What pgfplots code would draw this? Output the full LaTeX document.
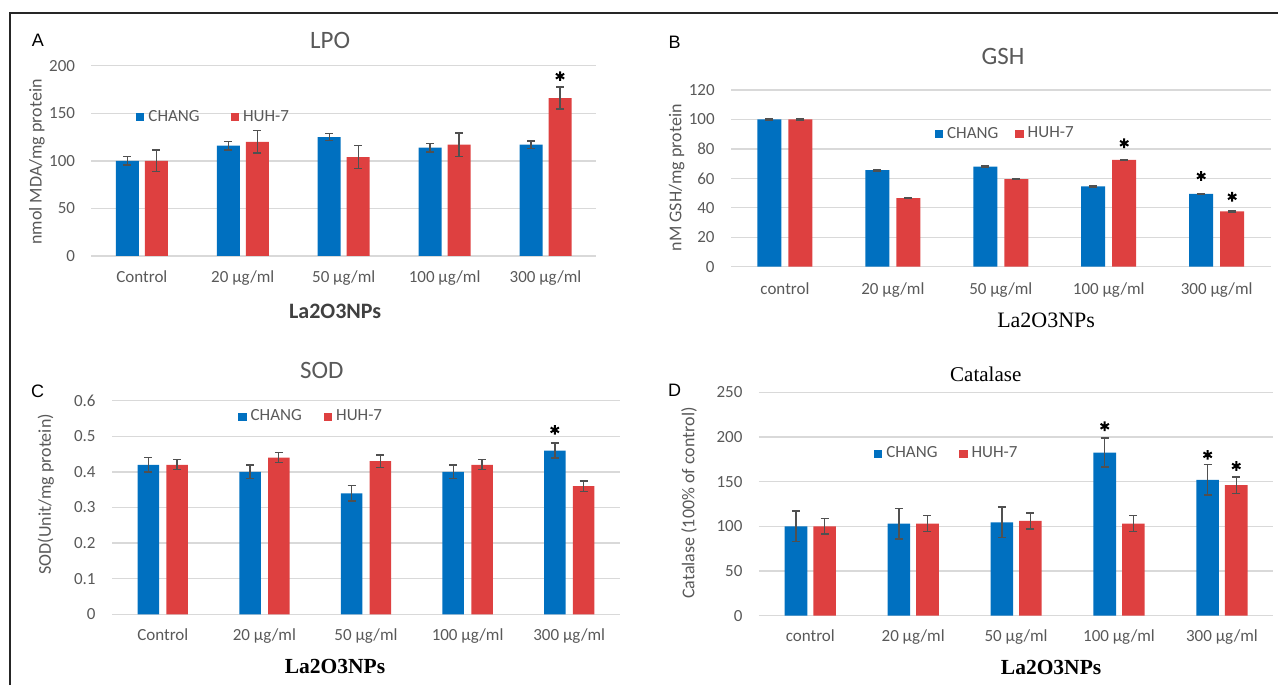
\documentclass[border=0pt]{standalone}
\usepackage{fontspec}
\setmainfont{Carlito}
\newfontfamily\arialf{Liberation Sans}
\newfontfamily\timesf{Liberation Serif}
\usepackage{pgfplots}
\pgfplotsset{compat=1.18}
\definecolor{cblue}{RGB}{0,112,192}
\definecolor{cred}{RGB}{222,64,64}
\definecolor{txt}{RGB}{89,89,89}
\definecolor{dtxt}{RGB}{64,64,64}
\definecolor{gridc}{RGB}{217,217,217}
\definecolor{errc}{RGB}{80,80,80}
\pgfplotsset{
  panel/.style={scale only axis, xmin=-0.5, xmax=4.5, ymin=0, xtick={0,...,4},
    axis line style={draw=none}, tick style={draw=none},
    ymajorgrids, grid style={gridc, line width=0.7pt}, clip=false, anchor=south west,
    every axis title shift=0pt,
    /pgf/number format/assume math mode=true,
    ticklabel style={font=\fontsize{8.5}{10}\selectfont, text=txt},
    yticklabel style={anchor=east, inner sep=0pt, xshift=-8pt},
    xticklabel style={anchor=base, inner sep=0pt},
    ylabel style={font=\fontsize{9}{11}\selectfont, text=txt, anchor=center},
    xlabel style={anchor=center},
    title style={anchor=center},
    legend style={draw=none, fill=none, legend columns=2, font=\fontsize{8.5}{10}\selectfont, text=txt, anchor=center}},
  chang/.style={ybar, bar shift=0pt, fill=cblue, draw=none,
    legend image code/.code={\fill[cblue] (0pt,-2.1pt) rectangle (4.2pt,2.1pt);}},
  huh/.style={ybar, bar shift=0pt, fill=cred, draw=none,
    legend image code/.code={\fill[cred] (0pt,-2.1pt) rectangle (4.2pt,2.1pt);}},
  errs/.style={/pgfplots/error bars/y dir=both, /pgfplots/error bars/y explicit,
    /pgfplots/error bars/error bar style={errc, line width=0.7pt},
    /pgfplots/error bars/error mark options={rotate=90, errc, mark size=2pt, line width=0.7pt}},
  stars/.style={only marks, mark=asterisk, mark size=2.4pt, mark options={black, line width=1pt}, forget plot}
}
\begin{document}
\begin{tikzpicture}
\useasboundingbox (0pt,0pt) rectangle (639pt,342.5pt);
\draw[line width=0.75pt, black!85] (5pt,0pt) -- (5pt,336pt) -- (639pt,336pt);
\node[font=\arialf\fontsize{9}{11}\selectfont] at (19pt,322.5pt) {A};
\node[font=\arialf\fontsize{9}{11}\selectfont] at (337.3pt,321.5pt) {B};
\node[font=\arialf\fontsize{9}{11}\selectfont] at (18.75pt,147pt) {C};
\node[font=\arialf\fontsize{9}{11}\selectfont] at (337.3pt,147.5pt) {D};

% Panel A
\begin{axis}[panel, at={(45.7pt,214.5pt)}, width=252.3pt, height=95.15pt,
  ymax=200, ytick={0,50,...,200},
  xticklabels={Control, 20 µg/ml, 50 µg/ml, 100 µg/ml, 300 µg/ml},
  xticklabel style={yshift=-13.5pt},
  title={LPO}, title style={at={(0.473,1.135)}, font=\fontsize{12.5}{14}\selectfont, text=txt},
  xlabel={La2O3NPs}, xlabel style={at={(0.483,-0.289)}, font=\fontsize{11}{13}\selectfont\bfseries, text=dtxt},
  ylabel={nmol MDA/mg protein}, ylabel style={at={(-0.108,0.494)}},
  legend style={at={(0.244,0.73)}, /tikz/every even column/.append style={column sep=13.5pt}}]
\addplot[chang, bar width=11.5pt, errs] coordinates
  {(-0.1437,100) +- (0,4.5) (0.8563,116) +- (0,4.4) (1.8563,125) +- (0,3.5) (2.8563,114) +- (0,4.5) (3.8563,117) +- (0,4)};
\addplot[huh, bar width=11.5pt, errs] coordinates
  {(0.1437,100) +- (0,11.5) (1.1437,120) +- (0,11.7) (2.1437,104) +- (0,12) (3.1437,117) +- (0,12.4) (4.1437,166) +- (0,11.7)};
\addplot[stars] coordinates {(4.1437,189)};
\legend{CHANG, HUH-7}
\end{axis}

% Panel B
\begin{axis}[panel, at={(365.5pt,209.15pt)}, width=269.8pt, height=88.35pt,
  ymax=120, ytick={0,20,...,120},
  xticklabels={control, 20 µg/ml, 50 µg/ml, 100 µg/ml, 300 µg/ml},
  xticklabel style={yshift=-13.7pt},
  title={GSH}, title style={at={(0.504,1.187)}, font=\fontsize{12.5}{14}\selectfont, text=txt},
  xlabel={La2O3NPs}, xlabel style={at={(0.584,-0.302)}, font=\timesf\fontsize{11}{13}\selectfont, text=black},
  ylabel={nM GSH/mg protein}, ylabel style={at={(-0.1008,0.503)}},
  legend style={at={(0.51,0.751)}, /tikz/every even column/.append style={column sep=6.5pt}}]
\addplot[chang, bar width=12pt, errs] coordinates
  {(-0.1436,100) +- (0,0.4) (0.8564,65.5) +- (0,0.4) (1.8564,68) +- (0,0.4) (2.8564,54.5) +- (0,0.3) (3.8564,49.5) +- (0,0.4)};
\addplot[huh, bar width=12pt, errs] coordinates
  {(0.1436,100) +- (0,0.4) (1.1436,46.5) +- (0,0.3) (2.1436,59.5) +- (0,0.4) (3.1436,72.5) +- (0,0.5) (4.1436,37.5) +- (0,0.4)};
\addplot[stars] coordinates {(3.1436,83.8) (3.8564,61.6) (4.1436,47.5)};
\legend{CHANG, HUH-7}
\end{axis}

% Panel C
\begin{axis}[panel, at={(56pt,35.35pt)}, width=254pt, height=106.8pt,
  ymax=0.6, ytick={0,0.1,...,0.6},
  yticklabel style={/pgf/number format/fixed, /pgf/number format/precision=1},
  xticklabels={Control, 20 µg/ml, 50 µg/ml, 100 µg/ml, 300 µg/ml},
  xticklabel style={yshift=-12.9pt},
  title={SOD}, title style={at={(0.413,1.140)}, font=\fontsize{12.5}{14}\selectfont, text=txt},
  xlabel={La2O3NPs}, xlabel style={at={(0.439,-0.245)}, font=\timesf\fontsize{10.75}{13}\selectfont\bfseries, text=black},
  ylabel={SOD(Unit/mg protein)}, ylabel style={at={(-0.130,0.562)}},
  legend style={at={(0.394,0.924)}, /tikz/every even column/.append style={column sep=9pt}}]
\addplot[chang, bar width=10.75pt, errs] coordinates
  {(-0.1417,0.42) +- (0,0.02) (0.8583,0.40) +- (0,0.019) (1.8583,0.34) +- (0,0.022) (2.8583,0.40) +- (0,0.019) (3.8583,0.46) +- (0,0.021)};
\addplot[huh, bar width=10.75pt, errs] coordinates
  {(0.1417,0.42) +- (0,0.014) (1.1417,0.44) +- (0,0.014) (2.1417,0.43) +- (0,0.017) (3.1417,0.42) +- (0,0.014) (4.1417,0.36) +- (0,0.015)};
\addplot[stars] coordinates {(3.8583,0.518)};
\legend{CHANG, HUH-7}
\end{axis}

% Panel D
\begin{axis}[panel, at={(379.4pt,34.65pt)}, width=257.3pt, height=111.7pt,
  ymax=250, ytick={0,50,...,250},
  xticklabels={control, 20 µg/ml, 50 µg/ml, 100 µg/ml, 300 µg/ml},
  xticklabel style={yshift=-12.7pt},
  title={Catalase}, title style={at={(0.441,1.082)}, font=\timesf\fontsize{10.5}{12}\selectfont, text=black},
  xlabel={La2O3NPs}, xlabel style={at={(0.568,-0.230)}, font=\timesf\fontsize{10.75}{13}\selectfont\bfseries, text=black},
  ylabel={Catalase (100\% of control)}, ylabel style={at={(-0.1356,0.504)}},
  legend style={at={(0.367,0.724)}, /tikz/every even column/.append style={column sep=8.8pt}}]
\addplot[chang, bar width=11.3pt, errs] coordinates
  {(-0.139,100) +- (0,17) (0.861,103) +- (0,17) (1.861,104.5) +- (0,17) (2.861,182.5) +- (0,16.2) (3.861,152) +- (0,17)};
\addplot[huh, bar width=11.3pt, errs] coordinates
  {(0.139,100) +- (0,8.6) (1.139,103) +- (0,8.8) (2.139,106) +- (0,9) (3.139,103) +- (0,8.8) (4.139,146) +- (0,9)};
\addplot[stars] coordinates {(2.861,212) (3.861,180) (4.139,167.5)};
\legend{CHANG, HUH-7}
\end{axis}
\end{tikzpicture}
\end{document}
